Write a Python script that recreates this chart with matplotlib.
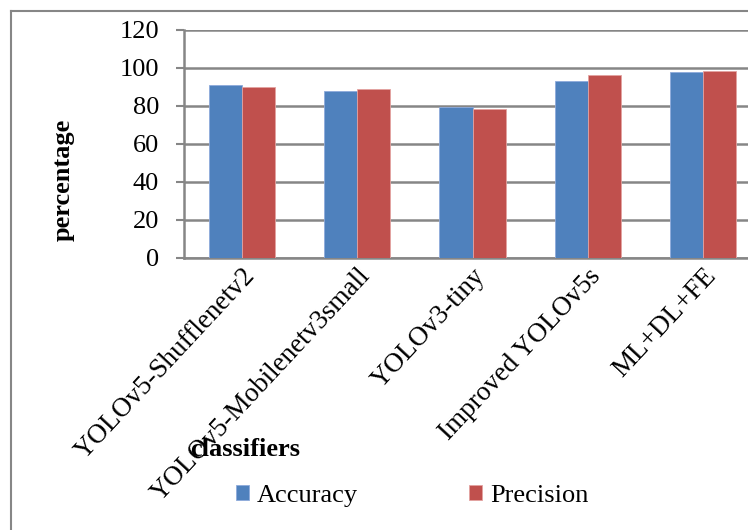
import matplotlib
matplotlib.use("Agg")
import matplotlib.pyplot as plt
import numpy as np
from matplotlib.lines import Line2D

classifiers = ["YOLOv5-Shufflenetv2", "YOLOv5-Mobilenetv3small", "YOLOv3-tiny",
               "Improved YOLOv5s", "ML+DL+FE"]
accuracy = [91.0, 88.1, 79.5, 93.4, 97.7]
precision = [90.2, 89.0, 78.3, 96.5, 98.2]
y_ticks = [0, 20, 40, 60, 80, 100, 120]

plt.rcParams["font.family"] = ["Liberation Serif", "DejaVu Serif"]
grey = "#868686"
blue = "#4F81BD"
red = "#C0504D"

W, H = 748, 530
fig = plt.figure(figsize=(W / 100, H / 100), dpi=100)
fig.patch.set_facecolor("white")

# plot area runs past the right edge of the canvas
ax = fig.add_axes([184 / W, (H - 258) / H, 577 / W, 228 / H])

x = np.arange(len(classifiers))
bw = 0.286
ax.bar(x - bw / 2, accuracy, bw, color=blue, edgecolor="#8EAADB", linewidth=0.6,
       label="Accuracy", zorder=3)
ax.bar(x + bw / 2, precision, bw, color=red, edgecolor="#E3A3A1", linewidth=0.6,
       label="Precision", zorder=3)

ax.set_xlim(-0.5, len(classifiers) - 0.5)
ax.set_ylim(0, 120)
ax.set_yticks(y_ticks)
ax.set_yticklabels([str(t) for t in y_ticks], fontsize=19)
ax.yaxis.grid(True, color=grey, linewidth=1.8, zorder=0)
ax.set_axisbelow(True)

for side in ["top", "right"]:
    ax.spines[side].set_visible(False)
for side in ["left", "bottom"]:
    ax.spines[side].set_color(grey)
    ax.spines[side].set_linewidth(1.8)
ax.tick_params(axis="y", length=6, width=1.5, color=grey, pad=12)
ax.tick_params(axis="x", length=0, pad=4)

ax.set_xticks(x)
ax.set_xticklabels(classifiers, rotation=47, ha="right", va="top",
                   rotation_mode="anchor", fontsize=19.5)

fig.text(63 / W, (H - 180) / H, "percentage", fontsize=19, fontweight="bold",
         rotation=90, ha="center", va="center")
fig.text(245 / W, (H - 450) / H, "classifiers", fontsize=19, fontweight="bold",
         ha="center", va="center")

handles, labels = ax.get_legend_handles_labels()
fig.legend(handles, labels, loc="center", bbox_to_anchor=(412 / W, (H - 496) / H),
           ncol=2, frameon=False, fontsize=19, handlelength=0.5, handleheight=0.5,
           handletextpad=0.3, columnspacing=4.2)

# outer chart frame, open to the right and bottom
fig.add_artist(Line2D([11 / W, 11 / W], [0, (H - 11) / H], color=grey, linewidth=1.5))
fig.add_artist(Line2D([11 / W, 1], [(H - 11) / H, (H - 11) / H], color=grey, linewidth=1.5))

fig.savefig("out.png", dpi=100, facecolor="white")
